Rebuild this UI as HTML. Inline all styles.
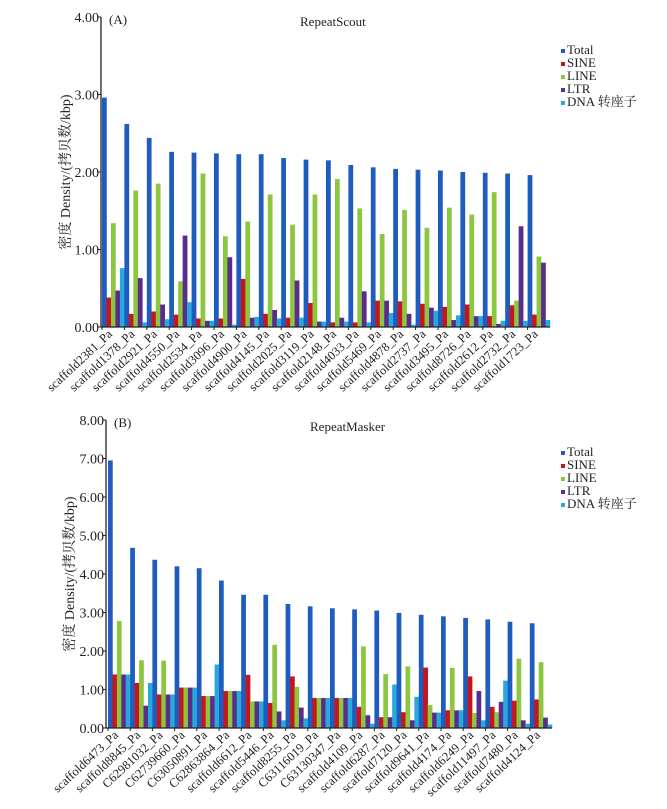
<!DOCTYPE html>
<html><head><meta charset="utf-8"><style>
body{margin:0;background:#fff}
svg{display:block;font-family:"Liberation Serif","Noto Serif CJK SC",serif}
</style></head><body>
<svg id="c" width="667" height="809" viewBox="0 0 667 809" xmlns="http://www.w3.org/2000/svg"></svg>
<script>
const seriesNames=["Total","SINE","LINE","LTR","DNA 转座子"];
const colors=["#1f5cbf","#c4161c","#8dc63f","#5a2d8c","#27a9db"];
const catsA=["scaffold2381_Pa","scaffold1378_Pa","scaffold2921_Pa","scaffold4550_Pa","scaffold2534_Pa","scaffold3096_Pa","scaffold4900_Pa","scaffold4145_Pa","scaffold2025_Pa","scaffold3119_Pa","scaffold2148_Pa","scaffold4033_Pa","scaffold5469_Pa","scaffold4878_Pa","scaffold2737_Pa","scaffold3495_Pa","scaffold8726_Pa","scaffold2612_Pa","scaffold2732_Pa","scaffold1723_Pa"];
const totalA=[2.96,2.62,2.44,2.26,2.25,2.24,2.23,2.23,2.18,2.16,2.15,2.09,2.06,2.04,2.03,2.02,2.00,1.99,1.98,1.96];
const sineA=[0.38,0.17,0.20,0.16,0.11,0.11,0.62,0.17,0.12,0.31,0.06,0.06,0.34,0.33,0.30,0.26,0.29,0.14,0.28,0.16];
const lineA=[1.34,1.76,1.85,0.59,1.98,1.17,1.36,1.71,1.32,1.71,1.91,1.53,1.20,1.51,1.28,1.54,1.45,1.74,0.34,0.91];
const ltrA=[0.47,0.63,0.29,1.18,0.08,0.90,0.12,0.22,0.60,0.07,0.12,0.46,0.34,0.17,0.25,0.09,0.14,0.04,1.30,0.83];
const dnaA=[0.76,0.06,0.10,0.32,0.08,0.03,0.13,0.11,0.12,0.07,0.07,0.06,0.18,0.03,0.21,0.15,0.14,0.08,0.08,0.09];
const ticksA=["0.00","1.00","2.00","3.00","4.00"];
const catsB=["scaffold6473_Pa","scaffold8845_Pa","C62981032_Pa","C62739660_Pa","C63050891_Pa","C62863864_Pa","scaffold6612_Pa","scaffold5446_Pa","scaffold8255_Pa","C63116019_Pa","C63130347_Pa","scaffold4109_Pa","scaffold6287_Pa","scaffold7120_Pa","scaffold9641_Pa","scaffold4174_Pa","scaffold6249_Pa","scaffold11497_Pa","scaffold7480_Pa","scaffold4124_Pa"];
const totalB=[6.95,4.68,4.37,4.20,4.15,3.83,3.46,3.46,3.22,3.16,3.11,3.08,3.05,2.99,2.94,2.90,2.86,2.82,2.76,2.72];
const sineB=[1.39,1.17,0.87,1.05,0.83,0.96,1.38,0.65,1.34,0.78,0.78,0.55,0.28,0.41,1.57,0.46,1.34,0.55,0.71,0.74];
const lineB=[2.78,1.76,1.75,1.05,0.83,0.96,0.69,2.16,1.07,0.78,0.78,2.12,1.40,1.60,0.60,1.56,0.39,0.41,1.80,1.71];
const ltrB=[1.39,0.58,0.87,1.05,0.83,0.96,0.69,0.43,0.53,0.78,0.78,0.33,0.28,0.20,0.40,0.46,0.96,0.68,0.20,0.27];
const dnaB=[1.39,1.17,0.87,1.05,1.65,0.96,0.69,0.20,0.25,0.78,0.78,0.11,1.13,0.81,0.40,0.46,0.20,1.23,0.11,0.09];
const ticksB=["0.00","1.00","2.00","3.00","4.00","5.00","6.00","7.00","8.00"];

const svg=document.getElementById('c');
const NS="http://www.w3.org/2000/svg";
function mk(tag,attrs,parent){const e=document.createElementNS(NS,tag);for(const k in attrs)e.setAttribute(k,attrs[k]);(parent||svg).appendChild(e);return e;}

function panel(cfg){
  const g=mk('g',{});
  
  
  const y=v=>cfg.y0-(v/cfg.max)*(cfg.y0-cfg.yTop);
  const gx=i=>cfg.x0+i*cfg.gw;
  const bw=cfg.gw/5;
  const series=[cfg.total,cfg.sine,cfg.line,cfg.ltr,cfg.dna];
  cfg.cats.forEach((c,i)=>{
    series.forEach((s,k)=>{
      const r=mk('rect',{x:gx(i)+k*bw,y:y(s[i]),width:bw+0.3,height:cfg.y0-y(s[i]),fill:colors[k]},g);
      
      
    });
  });
  const ax=mk('line',{x1:cfg.ax,y1:cfg.yTop,x2:cfg.ax,y2:cfg.y0,stroke:'#222','stroke-width':1.3},g);
  
  
  const xa=mk('line',{x1:cfg.ax,y1:cfg.y0,x2:gx(cfg.cats.length),y2:cfg.y0,stroke:'#222','stroke-width':1.3},g);
  
  
  cfg.ticks.forEach(t=>{
    const v=parseFloat(t),yy=y(v);
    mk('line',{x1:cfg.ax-3,y1:yy,x2:cfg.ax,y2:yy,stroke:'#222'},g);
    const tx=mk('text',{x:cfg.ax-2,y:yy+5,'text-anchor':'end','font-size':14,fill:'#222'},g);
    tx.textContent=t;
    
    
  });
  cfg.cats.forEach((c,i)=>{
    mk('line',{x1:gx(i),y1:cfg.y0,x2:gx(i),y2:cfg.y0+3,stroke:'#222'},g);
    const px=gx(i)+11,py=cfg.y0+8;
    const tx=mk('text',{x:px,y:py,'text-anchor':'end','font-size':12.5,fill:'#222',transform:`rotate(-43 ${px} ${py})`},g);
    tx.textContent=c;
    
    
  });
  const yt=mk('text',{x:0,y:0,'text-anchor':'middle','font-size':14,fill:'#222',transform:`translate(${cfg.ytx},${(cfg.y0+cfg.yTop)/2}) rotate(-90)`},g);
  yt.textContent='密度 Density/(拷贝数/kbp)';
  
  
  const pl=mk('text',{x:cfg.ax+8,y:cfg.yTop+7,'font-size':13,fill:'#222'},g);
  pl.textContent=cfg.label;
  
  
  const ti=mk('text',{x:cfg.titleX,y:cfg.titleY,'font-size':13,fill:'#222'},g);
  ti.textContent=cfg.title;
  
  
  seriesNames.forEach((n,k)=>{
    const ly=cfg.legY+k*13;
    const lg=mk('g',{},g);
    
    
    mk('rect',{x:561,y:ly-5,width:4,height:4,fill:colors[k]},lg);
    const t=mk('text',{x:567,y:ly,'font-size':13,fill:'#222'},lg);
    t.textContent=n;
  });
}
panel({name:'panel-a-repeatscout',cats:catsA,total:totalA,sine:sineA,line:lineA,ltr:ltrA,dna:dnaA,ticks:ticksA,max:4,y0:327,yTop:17,x0:102,gw:22.4,ax:101,ytx:70,label:'(A)',title:'RepeatScout',titleX:300,titleY:26,legY:54});
panel({name:'panel-b-repeatmasker',cats:catsB,total:totalB,sine:sineB,line:lineB,ltr:ltrB,dna:dnaB,ticks:ticksB,max:8,y0:728,yTop:420,x0:108,gw:22.2,ax:106,ytx:74,label:'(B)',title:'RepeatMasker',titleX:310,titleY:431,legY:456});
</script>
</body></html>
